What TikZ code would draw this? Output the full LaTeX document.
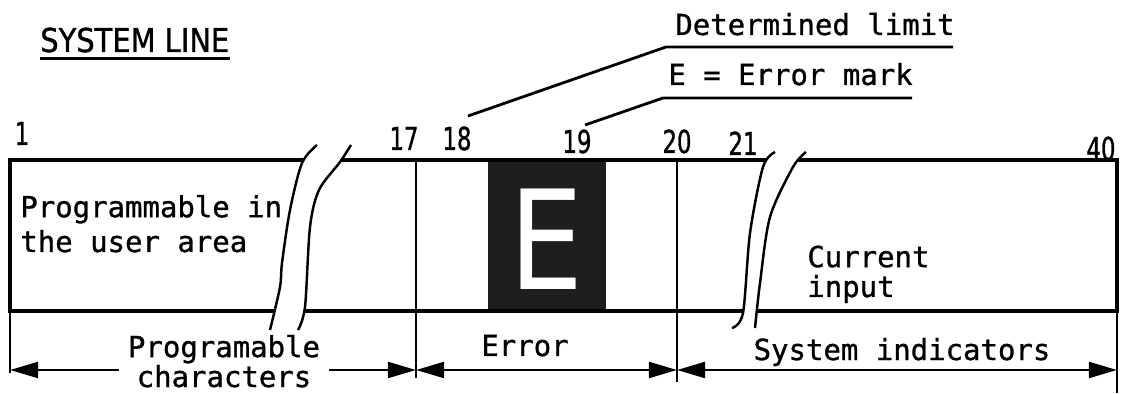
\documentclass[tikz,border=0pt]{standalone}
\usepackage{fontspec}
\setmainfont[FakeBold=1]{DejaVu Sans Mono}
\newfontfamily\numfont[FakeStretch=0.72, FakeBold=1]{DejaVu Sans}
\newfontfamily\titlefont[FakeStretch=0.88, FakeBold=1]{DejaVu Sans}
\newfontfamily\markfont[FakeStretch=0.85]{DejaVu Sans}
\usetikzlibrary{arrows.meta, positioning}
\definecolor{markblack}{HTML}{1e1e1e}

\tikzset{
  box line/.style={line width=2.4pt},
  ext line/.style={line width=1.6pt},
  dim line/.style={line width=1.6pt, {Triangle[length=16pt,width=9pt]}-{Triangle[length=16pt,width=9pt]}},
  mono/.style={font=\fontsize{16.5}{17}\selectfont, inner sep=0pt},
  num/.style={font=\numfont\fontsize{18}{18}\selectfont, inner sep=0pt, anchor=base},
  break line/.style={line width=1.4pt},
}

\begin{document}
\begin{tikzpicture}[x=0.02cm, y=-0.02cm]
\useasboundingbox (0,0) rectangle (1121,394);

% title
\node[font=\titlefont\fontsize{18.7}{19}\selectfont, inner sep=0pt, anchor=base west] (title) at (40,52) {SYSTEM LINE};
\draw[ext line] ([yshift=-3.5pt]title.base west) -- ([yshift=-3.5pt]title.base east);

% character positions
\foreach \x/\y/\n in {22/145/1, 404/150/17, 457/150/18, 577/153/19, 677/153/20, 743/155/21, 1101/160/40} {
  \node[num] (n\n) at (\x,\y) {\n};
}

% error mark field
\fill[markblack] (488,160) rectangle (606,311);
\node[font=\markfont\fontsize{78.5}{80}\selectfont, text=white, inner sep=0pt] (emark) at (547,239) {E};

% the line itself
\draw[box line] (10,160) rectangle (1117,311);
\draw[ext line] (10,160) -- (10,373);
\draw[ext line] (416,160) -- (416,378);
\draw[ext line] (677,160) -- (677,382);
\draw[ext line] (1117,160) -- (1117,393);

% breaks
\fill[white] plot[smooth] coordinates {(317,145) (302,163) (290,210) (282,263) (280,287) (270,330)}
  -- plot[smooth] coordinates {(298,330) (305,307) (310,227) (319,190) (340,162) (351,145)} -- cycle;
\draw[break line] plot[smooth] coordinates {(317,145) (302,163) (290,210) (282,263) (280,287) (270,330)};
\draw[break line] plot[smooth] coordinates {(298,330) (305,307) (310,227) (319,190) (340,162) (351,145)};
\fill[white] plot[smooth] coordinates {(775,152) (763,167) (750,233) (743,313) (732,328)}
  -- plot[smooth] coordinates {(755,328) (760,283) (770,217) (793,167) (806,152)} -- cycle;
\draw[break line] plot[smooth] coordinates {(775,152) (763,167) (750,233) (743,313) (732,328)};
\draw[break line] plot[smooth] coordinates {(755,328) (760,283) (770,217) (793,167) (806,152)};

% texts in the line
\node[mono, anchor=base west, align=left] (user) at (20,252) {Programmable in\\[2.8pt]the user area};
\node[mono, anchor=base west, align=left] (input) at (807,297) {Current\\input};

% dimensions
\coordinate (d1) at (10,370);
\coordinate (d17) at (416,370);
\coordinate (d20) at (677,370);
\coordinate (d40) at (1117,370);
\draw[dim line] (d1) -- (d17);
\draw[dim line] (d17) -- (d20);
\draw[dim line] (d20) -- (d40);
\node[mono, align=center, fill=white, inner xsep=5pt, anchor=base] (prog) at (224,387) {Programable\\characters};
\node[mono, anchor=base] (err) at (525,356) {Error};
\node[mono, anchor=base] (sys) at (902,360) {System indicators};

% leaders
\node[mono, anchor=base west] (limit) at (675,35) {Determined limit};
\node[mono, anchor=base west] (mark) at (668,85) {E = Error mark};
\coordinate (lim18) at (468,116);
\coordinate (mark19) at (585,125);
\draw[ext line] (lim18) -- (666,47) -- (953,47);
\draw[ext line] (mark19) -- (663,98) -- (912,98);
\end{tikzpicture}
\end{document}
